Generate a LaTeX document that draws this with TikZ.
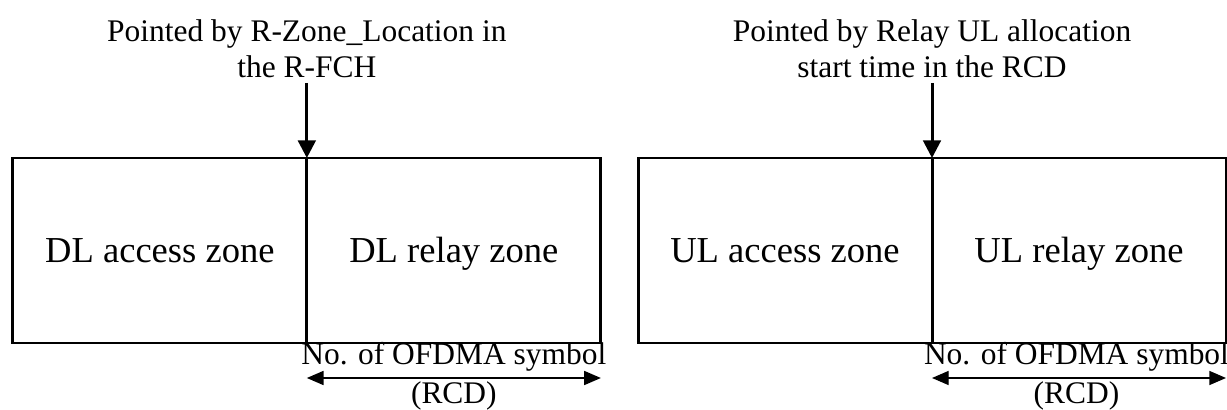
\documentclass[tikz,border=0pt]{standalone}
\usepackage{fontspec}
\setmainfont{Liberation Serif}
\usetikzlibrary{arrows.meta, positioning, calc}

\begin{document}
\begin{tikzpicture}
  \tikzset{zone/.style={draw,line width=1.7pt,minimum width=5.88cm,minimum height=3.7cm,
      outer sep=0pt,inner sep=0pt,text height=14pt,text depth=0pt,
      font=\fontsize{20.8}{25}\selectfont}}
  \tikzset{pointer/.style={align=center,inner sep=0pt,font=\fontsize{17.9}{20.5}\selectfont}}
  \tikzset{span/.style={align=center,inner sep=0pt,font=\fontsize{17.9}{22.5}\selectfont}}
  \useasboundingbox (0,0) rectangle (24.54,8.2);

  \node[zone] (DLA) at (3.197,3.19) {DL access zone};
  \node[zone,right=0pt of DLA] (DLR) {DL relay zone};
  \node[zone] (ULA) at (15.7,3.19) {UL access zone};
  \node[zone,right=0pt of ULA] (ULR) {UL relay zone};

  \coordinate[above=1.5cm of DLA.north east] (P1);
  \coordinate[above=1.5cm of ULA.north east] (P2);
  \node[pointer,above=0.1cm of P1] (T1) {Pointed by R-Zone\_Location in\\the R-FCH};
  \node[pointer,above=0.1cm of P2] (T2) {Pointed by Relay UL allocation\\start time in the RCD};
  \draw[-{Triangle[length=10pt,width=10pt]},line width=1.7pt] (P1) -- (DLA.north east);
  \draw[-{Triangle[length=10pt,width=10pt]},line width=1.7pt] (P2) -- (ULA.north east);

  \coordinate[below=0.7cm of DLR.south west] (S1);
  \coordinate[below=0.7cm of DLR.south east] (E1);
  \coordinate[below=0.7cm of ULR.south west] (S2);
  \coordinate[below=0.7cm of ULR.south east] (E2);
  \draw[{Triangle[length=9.5pt,width=8pt]}-{Triangle[length=9.5pt,width=8pt]},line width=0.8pt] (S1) -- (E1);
  \draw[{Triangle[length=9.5pt,width=8pt]}-{Triangle[length=9.5pt,width=8pt]},line width=0.8pt] (S2) -- (E2);
  \node[span,yshift=0.03cm] (N1) at ($(S1)!0.5!(E1)$) {No. of OFDMA symbol\\(RCD)};
  \node[span,yshift=0.03cm,xshift=-0.05cm] (N2) at ($(S2)!0.5!(E2)$) {No. of OFDMA symbol\\(RCD)};
\end{tikzpicture}
\end{document}
